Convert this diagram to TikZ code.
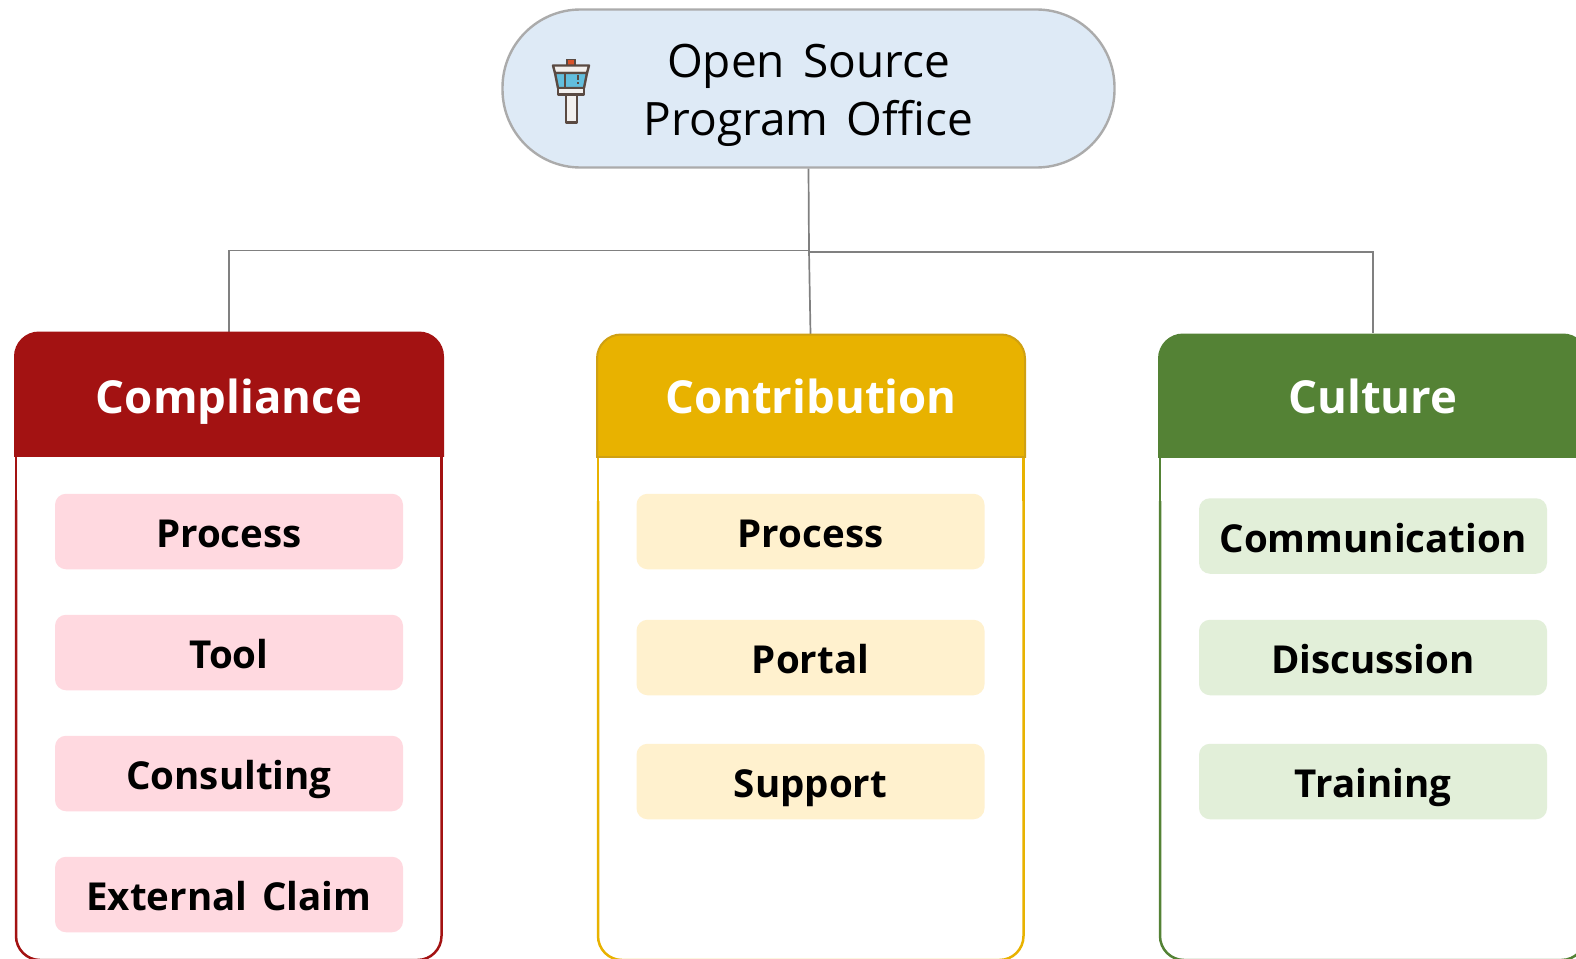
\documentclass[tikz,border=0pt]{standalone}
\usepackage{fontspec}
\setmainfont{Open Sans}[WordSpace=1.5]
\definecolor{rd}{HTML}{A31212}
\definecolor{yl}{HTML}{E8B200}
\definecolor{yld}{HTML}{CFA012}
\definecolor{gn}{HTML}{548235}
\definecolor{rdl}{HTML}{FFD9E0}
\definecolor{yll}{HTML}{FFF1CE}
\definecolor{gnl}{HTML}{E2EFD9}
\definecolor{topf}{HTML}{DEEAF6}
\definecolor{topd}{HTML}{ABABAB}
\definecolor{conn}{HTML}{808080}
\definecolor{icd}{HTML}{5A4A42}
\definecolor{icw}{HTML}{62BEDD}
\definecolor{ico}{HTML}{D9532B}
\definecolor{icb}{HTML}{F2F0EE}
\tikzset{x=1pt,y=-1pt,
 itembox/.style={rounded corners=11pt,minimum width=348pt,minimum height=75.5pt,inner sep=0pt,text height=40pt,text depth=8pt,font=\fontsize{38.5}{44}\selectfont\bfseries},
 headtext/.style={text=white,font=\fontsize{45.5}{50}\selectfont\bfseries,inner sep=0pt,text height=42pt,text depth=8pt},
 connline/.style={conn,line width=1.7pt},
 icline/.style={icd,line width=2.4pt,line join=round}}
\newcommand{\col}[7]{% x-left, head top, head bottom, colour, name, text, head edge colour
 \draw[#4,line width=2.5pt,fill=white,rounded corners=24pt] (#1+1,#3-30) -- (#1+1,960) -- (#1+426.5,960) -- (#1+426.5,#3-30) -- cycle;
 \draw[#7,line width=2pt,fill=#4,rounded corners=24pt] (#1,#3+40) -- (#1,#2) -- (#1+428,#2) -- (#1+428,#3+40) -- cycle;
 \fill[white] (#1-3,#3+1) rectangle (#1+431,#3+44);
 \draw[#4,line width=2.5pt] (#1+1,#3) -- (#1+1,#3+44) (#1+426.5,#3) -- (#1+426.5,#3+44);
 \fill[white] (#1+2.25,#3+1) rectangle (#1+425.25,#3+44);
 \draw[#7,line width=2pt] (#1,#3) -- (#1+428,#3);
 \node[headtext] (#5) at (#1+214,396) {#6};
}
\begin{document}
\begin{tikzpicture}
\useasboundingbox (0,0) rectangle (1576,958);
\node[draw=topd,line width=2.4pt,fill=topf,rounded corners=78pt,minimum width=612pt,minimum height=158pt,inner sep=0pt] (top) at (808.5,88.5) {};
\node[font=\fontsize{46}{58}\selectfont,align=center,inner sep=0pt] (toptext) at (808.5,95.5) {Open Source\\Program Office};
% tower icon
\fill[icd] (566,59) rectangle (576,65);
\fill[ico] (568,60.5) rectangle (574,65);
\draw[icline,fill=icb] (553,65.5) -- (589,65.5) -- (587,73) -- (555,73) -- cycle;
\draw[icline,fill=icw] (555,73) -- (587,73) -- (584,88) -- (558,88) -- cycle;
\draw[icline] (565,73) -- (565,88);
\fill[icd] (577,75) rectangle (579,80);
\fill[icd] (577,81.5) rectangle (579,83.5);
\draw[icline,fill=icb] (558,88) rectangle (584,94.5);
\draw[icline,fill=icb] (566,94.5) rectangle (577,122.5);
% connectors
\coordinate (j) at (809,251);
\coordinate (jl) at (809,250.4);
\coordinate (jr) at (809,252);
\draw[connline] (top.south) -- (jr);
\draw[connline] (jl) -- (229,250.4) -- (229,332);
\draw[connline] (jr) -- (1373,252) -- (1373,333);
\draw[connline] (j) -- (810.5,334);
\col{15}{332.5}{456}{rd}{h1}{Compliance}{rd}
\col{597}{334.5}{456.5}{yl}{h2}{Contribution}{yld}
\col{1159}{334.5}{457}{gn}{h3}{Culture}{gn}
\begin{scope}[every node/.append style={itembox}]
\node[fill=rdl] (a1) at (229,531.5) {Process};
\node[fill=rdl] (a2) at (229,652.5) {Tool};
\node[fill=rdl] (a3) at (229,773.5) {Consulting};
\node[fill=rdl] (a4) at (229,894.5) {External Claim};
\node[fill=yll] (b1) at (810.5,531.5) {Process};
\node[fill=yll] (b2) at (810.5,657.5) {Portal};
\node[fill=yll] (b3) at (810.5,781.5) {Support};
\node[fill=gnl] (c1) at (1373,536) {Communication};
\node[fill=gnl] (c2) at (1373,657.5) {Discussion};
\node[fill=gnl] (c3) at (1373,781.5) {Training};
\end{scope}
\end{tikzpicture}
\end{document}
